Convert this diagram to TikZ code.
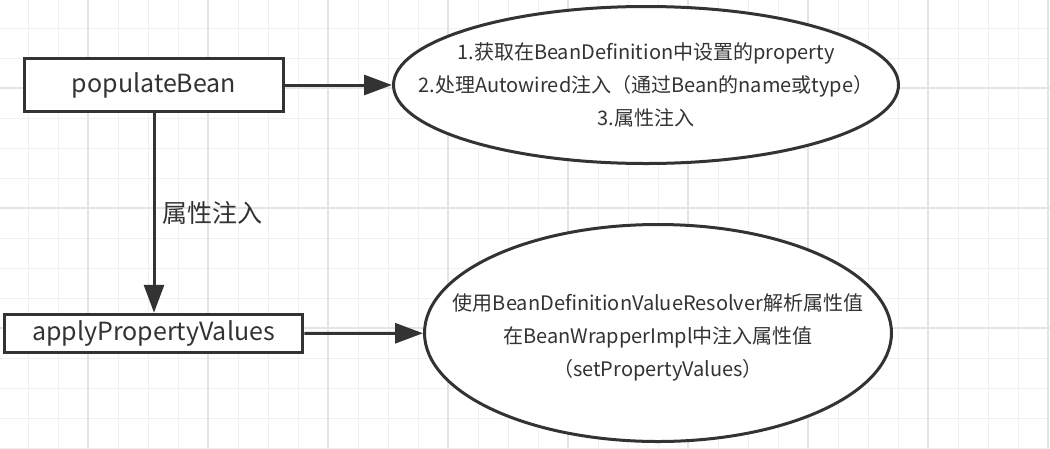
\documentclass[tikz,border=0pt]{standalone}
\usepackage{fontspec}
\setmainfont{Noto Sans CJK SC}
\usetikzlibrary{arrows.meta,shapes.geometric}
\definecolor{ink}{HTML}{333333}
\definecolor{gridminor}{HTML}{F0F0F0}
\definecolor{gridmajor}{HTML}{E4E4E4}

\begin{document}
\begin{tikzpicture}[x=1pt,y=-1pt,
    stepbox/.style={draw=ink, line width=3.5pt, fill=white, text=ink, inner sep=0pt,
      font=\fontsize{25}{33}\selectfont},
    bubble/.style={ellipse, draw=ink, line width=3pt, fill=white, inner sep=0pt},
    bubbletext/.style={text=ink, align=center, inner sep=0pt,
      font=\fontsize{20}{33}\selectfont},
    flow/.style={draw=ink, line width=3pt, -{Triangle[length=28pt,width=20pt]}}]
  \useasboundingbox (0,0) rectangle (1050,448);
  \fill[white] (0,0) rectangle (1050,448);
  % grid
  \foreach \x in {28,58,...,1050}
    \draw[gridminor, line width=1pt] (\x,0) -- (\x,448);
  \foreach \y in {28,58,...,448}
    \draw[gridminor, line width=1pt] (0,\y) -- (1050,\y);
  \foreach \x in {88,208,...,1050}
    \draw[gridmajor, line width=1.5pt] (\x,0) -- (\x,448);
  \foreach \y in {88,208,328}
    \draw[gridmajor, line width=1.5pt] (0,\y) -- (1050,\y);

  \node[stepbox, minimum width=259pt, minimum height=53pt] (populate) at (154,85) {populateBean};
  \node[stepbox, minimum width=298pt, minimum height=38pt] (apply) at (153.5,333.5) {applyPropertyValues};

  \node[bubble, minimum width=505pt, minimum height=157pt,
    label={[bubbletext, name=taskstext]center:{1.获取在BeanDefinition中设置的property\\
      2.处理Autowired注入（通过Bean的name或type）\\ 3.属性注入}}] (tasks) at (646,85) {};
  \node[bubble, minimum width=467pt, minimum height=217pt,
    label={[bubbletext, name=resolvetext, yshift=-4pt]center:{使用BeanDefinitionValueResolver解析属性值\\
      在BeanWrapperImpl中注入属性值\\ （setPropertyValues）}}] (resolve) at (658,333) {};

  \draw[flow] (populate) -- (tasks);
  \draw[flow] (apply) -- (resolve);
  \draw[flow] (populate.south) -- node[midway, right=7pt, text=ink, inner sep=0pt,
    font=\fontsize{25}{33}\selectfont] (injectlabel) {属性注入} (populate.south |- apply.north);
\end{tikzpicture}
\end{document}
